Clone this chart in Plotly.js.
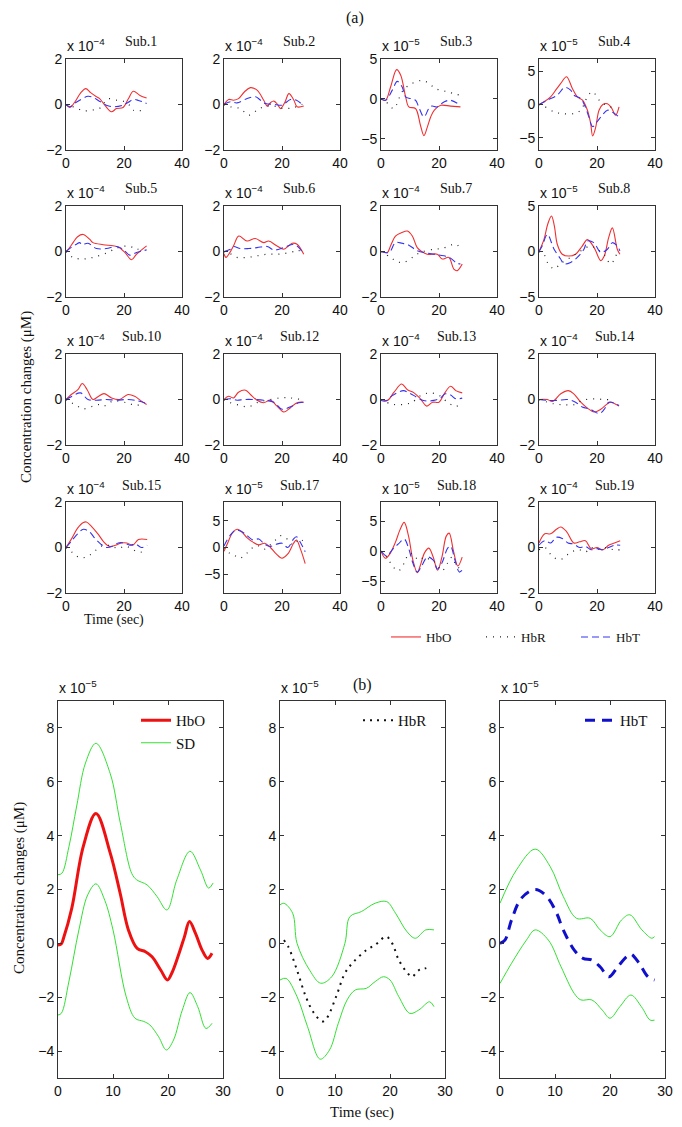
<!DOCTYPE html>
<html><head><meta charset="utf-8">
<script src="https://cdn.plot.ly/plotly-3.0.1.min.js"></script>
<style>body{margin:0;padding:0;background:#fff}#chart{width:682px;height:1127px}</style>
</head><body><div id="chart"></div>
<script>
// ---------- DATA (values in units of the panel's ×10^n multiplier) ----------
const subNames = ['Sub.1','Sub.2','Sub.3','Sub.4','Sub.5','Sub.6','Sub.7','Sub.8','Sub.10','Sub.12','Sub.13','Sub.14','Sub.15','Sub.17','Sub.18','Sub.19'];
const subExponents = ['-4','-4','-5','-5','-4','-4','-4','-5','-4','-4','-4','-4','-4','-5','-5','-4'];
const subYTicks = [[-2,0,2],[-2,0,2],[-5,0,5],[-5,0,5],[-2,0,2],[-2,0,2],[-2,0,2],[-5,0,5],[-2,0,2],[-2,0,2],[-2,0,2],[-2,0,2],[-2,0,2],[-5,0,5],[-5,0,5],[-2,0,2]];
const xTicksTop = [0,20,40];
const xTicksBottom = [0,10,20,30];
const yTicksBottom = [-4,-2,0,2,4,6,8];

const sub1_hbo = [[0,0],[1.3,-0.13],[3,0.1],[5,0.5],[6.8,0.7],[8.5,0.52],[10.5,0.34],[11.6,0.26],[13.5,-0.05],[15.7,-0.32],[17.4,-0.18],[19.7,-0.13],[21.5,0.25],[23.2,0.58],[25.5,0.4],[27.8,0.29]];
const sub1_hbr = [[0,0],[2,-0.08],[4.1,-0.18],[5.9,-0.28],[8.8,-0.25],[11.6,-0.17],[13,0.05],[14.5,0.25],[17.4,0.19],[20.3,0.12],[22,-0.05],[23.2,-0.25],[27,-0.25]];
const sub1_hbt = [[0,0],[1.3,-0.1],[3,0.05],[4.7,0.19],[7.6,0.36],[9.5,0.3],[11,0.19],[13.9,-0.03],[16.8,-0.1],[19.7,-0.03],[21.5,0.1],[23.2,0.22],[25,0.18],[27.8,0.04]];

const sub2_hbo = [[0,0],[1.6,0.22],[3.3,0.19],[5,0.26],[7,0.55],[9.1,0.74],[11.4,0.63],[13.7,0.19],[14.9,-0.07],[16,0.08],[17.2,0.15],[18.5,0.0],[19.5,-0.18],[21,0.1],[22.4,0.48],[24.1,0.19],[25.2,-0.1],[27.5,-0.07]];
const sub2_hbr = [[0,0],[2.2,-0.1],[5.6,-0.18],[8.5,-0.47],[11.4,-0.25],[13.7,-0.1],[17.2,-0.07],[20.6,-0.18],[24,-0.13],[27,0.01]];
const sub2_hbt = [[0,0],[2.2,0.12],[4.5,0.07],[8,0.26],[10.9,0.34],[12.5,0.2],[14.3,0.04],[17.2,0.01],[20,-0.03],[22.9,0.22],[25,0.19],[27.5,-0.07]];

const sub3_hbo = [[0,0],[1.6,-0.17],[3.3,1.5],[5.4,3.67],[6.8,2.96],[8.5,0.25],[9.6,-1],[11.9,-1.2],[13.6,-3.3],[14.8,-4.6],[16,-3.5],[17.2,-2.2],[18.4,-1.4],[20.6,-0.8],[24,-0.9],[27.4,-1]];
const sub3_hbr = [[0,0],[1.6,-0.3],[3.3,-1],[4.5,-1.2],[7.3,0.9],[9.6,1.7],[13.6,2.3],[15.9,2.1],[18.8,1.3],[22.8,0.9],[27.4,0.45]];
const sub3_hbt = [[0,0],[1.6,-0.17],[3.9,1.1],[5.6,2.2],[7.3,1.5],[8.5,0.25],[10.2,0.04],[11.9,-0.17],[13,-1],[14.8,-2.25],[16.5,-1.2],[17.5,-0.9],[19.4,-1],[21.7,-0.38],[24,-0.17],[27.4,-0.8]];

const sub4_hbo = [[0,0],[1.7,0.4],[4,1.15],[6,2.3],[7.5,3.15],[9.5,4.15],[11.5,2.4],[13.2,1.15],[15,0.65],[16.7,-0.85],[17.8,-2.8],[18.5,-4.7],[19.5,-3.5],[20.7,-0.85],[22,0],[23.6,0.1],[25,-0.5],[26.4,-1.6],[27.6,-0.35]];
const sub4_hbr = [[0,0],[1.7,-0.25],[5.2,-1.1],[8,-1.35],[12,-1.35],[14.4,-0.85],[16.7,1.15],[18.4,1.9],[21.3,0.4],[24.7,-0.35],[27,-0.6]];
const sub4_hbt = [[0,0],[2.9,0.65],[6.3,1.4],[8.9,2.55],[10.9,2.15],[12,1.4],[14.4,0.9],[15.8,-0.2],[17.2,-1.85],[18.5,-3.3],[20,-2.6],[21.8,-1.6],[23.6,-0.85],[25.5,-1.2],[27.6,-1.85]];

const sub5_hbo = [[0,0],[1,0.13],[2.5,0.4],[4,0.65],[5.9,0.75],[8.2,0.53],[9.3,0.39],[12.8,0.3],[16.2,0.25],[18,0.2],[20.3,-0.04],[22.6,-0.36],[24.3,-0.12],[27.8,0.25]];
const sub5_hbr = [[0,0],[2.4,-0.26],[5.9,-0.33],[9.3,-0.26],[13.9,-0.07],[17.5,0.15],[20.9,0.24],[24.3,0.13],[26.6,-0.01]];
const sub5_hbt = [[0,0],[2,0.2],[3.6,0.32],[4.7,0.39],[5.5,0.3],[7.6,0.36],[10.5,0.13],[13.9,0.13],[17.4,0.22],[19.7,0.1],[22,-0.16],[24.3,-0.04],[27.8,0.07]];

const sub6_hbo = [[0,-0.1],[0.7,-0.26],[2,-0.05],[3.3,0.25],[5.1,0.68],[7.9,0.46],[10.8,0.57],[13.7,0.39],[15.4,0.46],[18.3,0.24],[20.6,0.1],[23.5,0.36],[25.2,0.32],[27.5,-0.12]];
const sub6_hbr = [[0,0],[2.2,-0.1],[4.5,-0.26],[8,-0.26],[11.4,-0.19],[14.9,-0.12],[18.3,-0.12],[21.7,-0.07],[25.2,0.03],[27.5,0.05]];
const sub6_hbt = [[0,0],[2.2,0.1],[3.3,0.22],[5.6,0.13],[8.5,0.13],[11.4,0.17],[14.9,0.22],[17.2,0.07],[20.6,0.17],[24,0.32],[25.8,0.17],[27.5,-0.12]];

const sub7_hbo = [[0,0],[2.2,-0.04],[3.3,0.25],[5,0.68],[7,0.82],[9.1,0.9],[10.8,0.68],[12.5,0.17],[14,0],[15.9,-0.12],[19.4,-0.12],[21.1,-0.33],[23.4,-0.26],[25.1,-0.77],[26.3,-0.84],[28,-0.55]];
const sub7_hbr = [[0,0],[3.3,-0.26],[5.6,-0.45],[7.9,-0.48],[10.8,-0.26],[13.6,-0.04],[18.2,0.1],[21,0.13],[25.7,0.32],[27.4,0.13]];
const sub7_hbt = [[0,0],[2.8,-0.04],[5,0.39],[7.3,0.36],[9.6,0.28],[12.5,0.03],[15.9,-0.07],[18.2,-0.12],[21.7,-0.19],[24,-0.3],[26,-0.5],[27.4,-0.55]];

const sub8_hbo = [[0,0],[1.7,1.3],[3,3],[4.3,3.9],[5.3,2.8],[6.3,0.8],[8,-0.3],[10.3,-0.5],[12.6,-0.3],[14.9,0.6],[16.7,1.3],[19,0.43],[21.3,-1.0],[22.5,-0.5],[24,1.5],[25.3,2.6],[27,0.25],[27.9,-0.3]];
const sub8_hbr = [[0,0],[1.7,-0.3],[2.9,-1.2],[5.2,-1.9],[7.4,-1.35],[10.9,-0.65],[14.4,0.07],[17.8,0.6],[20,0.25],[22.4,-0.3],[24.7,-1.35],[27,-0.1]];
const sub8_hbt = [[0,0],[1.1,0.6],[2.9,1.87],[5.2,0.25],[7.4,-0.8],[8.6,-1.35],[10.9,-1.2],[13.2,-0.65],[15.5,0.25],[16.7,1.15],[18.9,0.97],[21.3,-0.1],[23.6,0.25],[25.3,0.97],[27,0.6],[27.9,0.07]];

const sub10_hbo = [[0,0],[1.8,0.22],[4.1,0.43],[5.6,0.7],[7.3,0.43],[9.3,0],[11,0.12],[13.1,0.26],[15.7,0.07],[18.5,0],[21.4,0.22],[23.7,0.14],[26,-0.07],[27.8,-0.22]];
const sub10_hbr = [[0,0],[1.8,-0.14],[3.6,-0.26],[5.9,-0.41],[9.3,-0.29],[11.6,-0.22],[13,-0.29],[16.2,-0.07],[20.8,-0.14],[24.3,-0.26],[26.6,-0.14]];
const sub10_hbt = [[0,0],[1.8,0.12],[5,0.29],[7.6,0],[10.5,-0.03],[13.9,0],[17.4,-0.03],[20.8,0],[23.7,-0.03],[27.8,-0.17]];

const sub12_hbo = [[0,0],[1.6,0.14],[3.3,0.07],[5,0.32],[7.4,0.41],[9.1,0.22],[11.4,-0.03],[13.7,-0.14],[16,-0.03],[18.3,-0.29],[20.6,-0.55],[22.9,-0.36],[25.2,-0.14],[27.5,-0.12]];
const sub12_hbr = [[0,0],[2.2,-0.14],[5.6,-0.26],[8.5,-0.32],[11.4,-0.14],[14.9,-0.03],[19.5,0.07],[22.9,0.07],[26.4,0]];
const sub12_hbt = [[0,0],[2.2,0.03],[4.5,-0.03],[6.8,0],[10.3,0],[13.7,-0.03],[17.2,-0.12],[20,-0.43],[23.5,-0.29],[25.8,-0.14],[27.5,-0.12]];

const sub13_hbo = [[0,0],[2.2,-0.04],[4.5,0.32],[7.1,0.68],[9.1,0.43],[11.4,0.29],[13.6,0.03],[15.8,-0.29],[17.8,-0.12],[20,-0.12],[21.8,0.25],[24,0.58],[25.8,0.39],[28,0.29]];
const sub13_hbr = [[0,0],[3.3,-0.19],[6.2,-0.23],[9.1,-0.19],[10.8,-0.12],[13.6,0.17],[17.2,0.29],[20.6,0.14],[22.9,-0.12],[25.7,-0.29],[27.4,-0.23]];
const sub13_hbt = [[0,-0.04],[1.6,-0.07],[3.9,0.17],[7.7,0.39],[9.6,0.29],[11.4,0.17],[13.6,0],[15.9,-0.07],[18.2,-0.04],[20.4,0.06],[22.2,0.25],[24,0.2],[25.8,0.03],[28,0.06]];

const sub14_hbo = [[0,0],[2.9,0],[4.6,-0.09],[7.5,0.25],[10.1,0.39],[12,0.25],[14.4,-0.12],[16.7,-0.38],[19,-0.55],[21.3,-0.43],[23.6,-0.19],[24.7,-0.12],[27.6,-0.29]];
const sub14_hbr = [[0,0],[5.2,-0.19],[8.6,-0.23],[12,-0.23],[14.9,-0.04],[18.9,0.03],[22.4,0],[25.8,0]];
const sub14_hbt = [[0,0],[3.5,-0.04],[6.3,-0.04],[9.8,0],[12.6,-0.12],[14.9,-0.33],[17.8,-0.43],[20.7,-0.62],[22.4,-0.45],[24.1,-0.12],[27.6,-0.26]];

const sub15_hbo = [[0,0],[2,0.4],[4,0.85],[6,1.1],[7,1.12],[9,0.9],[11,0.6],[13,0.25],[15,0.05],[17,0.1],[19,0.2],[21,0.2],[23,0.1],[25,0.35],[28,0.35]];
const sub15_hbr = [[0,0],[2,-0.2],[4,-0.4],[6,-0.45],[8,-0.35],[10,-0.15],[12,0.05],[14,0.1],[16,0.05],[18,-0.05],[20,0.05],[22,0],[24,-0.15],[26,-0.2],[28,-0.15]];
const sub15_hbt = [[0,0],[2,0.3],[4,0.6],[6,0.8],[8,0.7],[10,0.4],[12,0.15],[14,0],[16,0.05],[18,0.2],[20,0.2],[22,0.1],[24,0.15],[26,0],[28,0.1]];

const sub17_hbo = [[0,-0.7],[1,0.5],[3,2.8],[4.5,3.4],[6,3],[8,1.8],[10,1],[12,0.5],[14,0.8],[16,0],[18,-1.2],[20,-2],[22,-1.2],[24,0.8],[25,1.4],[26.5,-0.5],[28,-3]];
const sub17_hbr = [[0,0],[2,-1.1],[4,-1.6],[5.5,-2],[8,-1],[10,0],[12,0.3],[14,-0.3],[16,0.5],[18,1.5],[19.5,2.2],[22,1.5],[24,0.5],[26,1.6],[28,0.8]];
const sub17_hbt = [[0,0.3],[2,2.2],[4,3.2],[6,3],[8,2.2],[10,1.4],[12,1.6],[14,0.6],[16,0.2],[18,0.6],[20,0.8],[22,0],[24,1.6],[25,2],[26.5,0.8],[28,-0.8]];

const sub18_hbo = [[0,0],[1.5,-1.2],[3,-0.5],[5,1.5],[6.5,3.5],[8,4.8],[9.5,2.5],[11,-1.5],[12.5,-3.6],[13.5,-2.5],[15,-0.3],[16.5,0.5],[18,-1],[19.5,-3.2],[21,-1],[22.5,2.5],[23.5,3],[25,0],[26.5,-2.5],[28,-1]];
const sub18_hbr = [[0,0],[2,-1],[4,-2.5],[6,-3.3],[8,-2],[9.5,-0.5],[11,-0.5],[13,-1.5],[15,-1],[17,-1.5],[19,-2],[21,-3.3],[23,-2],[24.5,-1],[26,-2.5],[28,-3]];
const sub18_hbt = [[0,0],[2,-0.8],[4,0.3],[6,1.2],[8,2],[9.5,0.5],[11,-2],[12.5,-3.5],[14,-2.5],[16,-1],[18,-1.5],[19.5,-3],[21,-2],[23,0.5],[24,0.8],[25.5,-1.5],[27,-3.5],[28,-3.2]];

const sub19_hbo = [[0,0.2],[2,0.6],[4,0.6],[6,0.8],[7.5,0.9],[9.5,0.7],[12,0.2],[14,0.25],[16,0.3],[18,-0.05],[20,0],[22,-0.1],[24,0.1],[26,0.2],[28,0.3]];
const sub19_hbr = [[0,-0.1],[2,0],[4,-0.3],[6,-0.5],[8,-0.5],[10,-0.3],[12,-0.15],[14,-0.1],[16,-0.2],[18,0],[20,-0.1],[22,0],[24,-0.05],[26,-0.1],[28,-0.1]];
const sub19_hbt = [[0,0.1],[2,0.3],[4,0.2],[6,0.45],[8,0.4],[10,0.2],[12,0.15],[14,0],[16,0.05],[18,-0.1],[20,-0.05],[22,-0.1],[24,0],[26,0.1],[28,0.1]];

// Panel (b) group averages, units of 1e-5
const avg_hbo = [[0,-0.06],[0.6,-0.02],[1,0.19],[2.5,1.3],[4.6,3.6],[6.9,4.82],[9.5,3.35],[11.3,1.86],[12.8,0.5],[14.4,-0.19],[15.9,-0.31],[17.1,-0.5],[18.7,-1.0],[19.9,-1.36],[20.7,-1.1],[21.8,-0.5],[23,0.25],[23.9,0.81],[25,0.37],[26.2,-0.25],[27.2,-0.56],[28,-0.37]];
const avg_hbo_sdUp = [[0,2.55],[0.7,2.6],[2,3.6],[3.4,5.1],[5,6.7],[6.9,7.43],[9.5,6.3],[11.3,4.5],[13.4,2.6],[14.3,2.36],[16.2,2.17],[18,1.74],[19.8,1.24],[21.6,2.36],[24,3.42],[25.9,2.73],[27.4,2.05],[28.2,2.24]];
const avg_hbo_sdLo = [[0,-2.66],[0.6,-2.6],[2,-1.4],[3.8,0.5],[5.4,1.8],[6.9,2.21],[8.5,1.6],[10,0.5],[12.4,-1.98],[14,-2.78],[15.6,-2.9],[16.7,-3.03],[18.3,-3.47],[19.7,-3.96],[21,-3.59],[22.6,-2.48],[24,-1.83],[25.4,-2.35],[26.9,-3.16],[28,-2.97]];

const avg_hbr = [[0.7,0.12],[1.5,-0.12],[3.1,-1],[4.7,-1.98],[6.2,-2.6],[7.7,-2.9],[8.5,-2.78],[10.2,-1.98],[11.8,-1.11],[13.4,-0.68],[15.7,-0.25],[17.3,-0.06],[19.3,0.25],[20.4,0],[21.6,-0.62],[23.2,-1.11],[24,-1.24],[25.2,-1],[26.4,-0.93],[27.5,-0.87]];
const avg_hbr_sdUp = [[0,1.43],[0.7,1.49],[2.3,1.12],[3.1,0],[5.4,-1],[7.4,-1.48],[9.4,-1.24],[11.8,0],[12.7,0.99],[14.8,1.18],[17.3,1.49],[19.4,1.55],[21,1.12],[23.1,0.43],[24.6,0.19],[26.5,0.5],[28,0.5]];
const avg_hbr_sdLo = [[0,-1.36],[1.1,-1.3],[3.1,-1.98],[5,-3.09],[7.3,-4.3],[9,-3.96],[10.6,-2.97],[12.2,-2.1],[13.7,-1.73],[15.7,-1.67],[17.3,-1.42],[18.8,-1.24],[20,-1.36],[21.6,-1.98],[23.6,-2.6],[25.2,-2.48],[27.2,-2.17],[28,-2.35]];

const avg_hbt = [[0,0],[0.9,0.12],[2.1,0.87],[3.9,1.68],[6.4,2.0],[8.5,1.74],[10.3,1.12],[11.5,0.5],[13.5,-0.25],[15.1,-0.56],[16.7,-0.62],[18.2,-0.87],[19.8,-1.24],[21.4,-0.87],[23,-0.5],[23.8,-0.4],[25.3,-0.74],[26.9,-1.24],[28.1,-1.36]];
const avg_hbt_sdUp = [[0,1.49],[3,2.73],[6.4,3.5],[9.1,2.86],[11.5,1.74],[13.9,0.93],[16.4,0.93],[18.2,0.5],[20,0.25],[22.1,0.87],[23.6,1.06],[25.8,0.5],[27.6,0.19],[28.1,0.25]];
const avg_hbt_sdLo = [[0,-1.49],[2.1,-0.74],[4.8,0.12],[6.4,0.5],[8.8,0.12],[11.1,-0.87],[13.5,-1.86],[14.7,-2.1],[16.7,-2.1],[18.6,-2.48],[20,-2.78],[21.8,-2.35],[23.8,-1.92],[25.7,-2.35],[27.3,-2.85],[28.1,-2.85]];

const subSeries = [
  [sub1_hbo,sub1_hbr,sub1_hbt],[sub2_hbo,sub2_hbr,sub2_hbt],[sub3_hbo,sub3_hbr,sub3_hbt],[sub4_hbo,sub4_hbr,sub4_hbt],
  [sub5_hbo,sub5_hbr,sub5_hbt],[sub6_hbo,sub6_hbr,sub6_hbt],[sub7_hbo,sub7_hbr,sub7_hbt],[sub8_hbo,sub8_hbr,sub8_hbt],
  [sub10_hbo,sub10_hbr,sub10_hbt],[sub12_hbo,sub12_hbr,sub12_hbt],[sub13_hbo,sub13_hbr,sub13_hbt],[sub14_hbo,sub14_hbr,sub14_hbt],
  [sub15_hbo,sub15_hbr,sub15_hbt],[sub17_hbo,sub17_hbr,sub17_hbt],[sub18_hbo,sub18_hbr,sub18_hbt],[sub19_hbo,sub19_hbr,sub19_hbt]
];

// ---------- LAYOUT GEOMETRY ----------
const W = 682, H = 1127;
const px = p => p / W;
const py = p => 1 - p / H;
const colL = [66, 224, 381, 539], colW = 116;
const rowT = [59, 206, 354, 502], rowH = 91;
const yRanges = [[-2,2],[-2,2],[-6.4,5],[-6.8,6.8],[-2,2],[-2,2],[-2,2],[-5,5],[-2,2],[-2,2],[-2,2],[-2,2],[-2,2],[-8.5,8.5],[-7,8.2],[-2,2]];
const botL = [58, 280, 500], botW = 165, botT = 701, botB = 1078;

const SANS = 'Liberation Sans, Arial, sans-serif';
const SERIF = 'Liberation Serif, Times New Roman, serif';
const AX = '#333';
const RED = '#f03030', BLUE = '#3434f0', BLK = '#222';

const xs = a => a.map(p => p[0]);
const ys = a => a.map(p => p[1]);
const axName = (k, i) => k + (i === 1 ? '' : i);

const traces = [];
const layout = {
  width: W, height: H, margin: {l:0, r:0, t:0, b:0},
  paper_bgcolor: '#fff', plot_bgcolor: '#fff',
  font: {family: SANS, size: 14, color: '#111'},
  annotations: [], showlegend: true
};

function baseAxis(extra) {
  return Object.assign({
    showline: true, linecolor: AX, linewidth: 1, mirror: 'ticks',
    ticks: 'inside', ticklen: 4, tickcolor: AX, tickwidth: 1,
    showgrid: false, zeroline: false, fixedrange: true,
    tickfont: {family: SANS, size: 14, color: '#111'}
  }, extra);
}

const names = ['HbO', 'HbR', 'HbT'];
const styles = [
  {color: RED, width: 1.1, dash: 'solid'},
  {color: BLK, width: 1.2, dash: '1px,6px'},
  {color: BLUE, width: 1.1, dash: '7px,4px'}
];

for (let k = 0; k < 16; k++) {
  const i = k + 1, r = Math.floor(k / 4), c = k % 4;
  layout[axName('xaxis', i)] = baseAxis({
    domain: [px(colL[c]), px(colL[c] + colW)], anchor: axName('y', i),
    range: [0, 40], tickvals: xTicksTop
  });
  layout[axName('yaxis', i)] = baseAxis({
    domain: [py(rowT[r] + rowH), py(rowT[r])], anchor: axName('x', i),
    range: yRanges[k], tickvals: subYTicks[k]
  });
  for (let s = 0; s < 3; s++) {
    const d = subSeries[k][s];
    traces.push({
      type: 'scatter', mode: 'lines', x: xs(d), y: ys(d),
      xaxis: axName('x', i), yaxis: axName('y', i),
      name: names[s], legend: 'legend', showlegend: k === 0,
      line: Object.assign({shape: 'spline', smoothing: 1}, styles[s]),
      hoverinfo: 'skip'
    });
  }
  layout.annotations.push({
    xref: 'paper', yref: 'paper', x: px(colL[c] - 1), y: py(rowT[r] - 3),
    xanchor: 'left', yanchor: 'bottom', showarrow: false,
    text: 'x 10<sup>\u2212' + subExponents[k].replace('-', '') + '</sup>',
    font: {family: SANS, size: 14, color: '#111'}
  });
  layout.annotations.push({
    xref: 'paper', yref: 'paper', x: px(colL[c] + colW / 2 + 17), y: py(rowT[r] - 17),
    xanchor: 'center', yanchor: 'middle', showarrow: false,
    text: subNames[k], font: {family: SERIF, size: 14, color: '#111'}
  });
}

// bottom panels
const botSets = [
  {main: avg_hbo, up: avg_hbo_sdUp, lo: avg_hbo_sdLo, name: 'HbO', line: {color: '#ee1111', width: 3, dash: 'solid'}, leg: 'legend2'},
  {main: avg_hbr, up: avg_hbr_sdUp, lo: avg_hbr_sdLo, name: 'HbR', line: {color: '#111', width: 2, dash: '2px,5px'}, leg: 'legend3'},
  {main: avg_hbt, up: avg_hbt_sdUp, lo: avg_hbt_sdLo, name: 'HbT', line: {color: '#1010cc', width: 3, dash: '10px,7px'}, leg: 'legend4'}
];
const GREEN = '#33e033';
for (let b = 0; b < 3; b++) {
  const i = 17 + b, S = botSets[b];
  layout[axName('xaxis', i)] = baseAxis({
    domain: [px(botL[b]), px(botL[b] + botW)], anchor: axName('y', i),
    range: [0, 30], tickvals: xTicksBottom
  });
  layout[axName('yaxis', i)] = baseAxis({
    domain: [py(botB), py(botT)], anchor: axName('x', i),
    range: [-5, 9], tickvals: yTicksBottom
  });
  traces.push({type: 'scatter', mode: 'lines', x: xs(S.main), y: ys(S.main),
    xaxis: axName('x', i), yaxis: axName('y', i), name: S.name, legend: S.leg,
    line: Object.assign({shape: 'spline', smoothing: 1}, S.line), hoverinfo: 'skip'});
  traces.push({type: 'scatter', mode: 'lines', x: xs(S.up), y: ys(S.up),
    xaxis: axName('x', i), yaxis: axName('y', i), name: 'SD', legend: S.leg, showlegend: b === 0,
    line: {shape: 'spline', smoothing: 1, color: GREEN, width: 1}, hoverinfo: 'skip'});
  traces.push({type: 'scatter', mode: 'lines', x: xs(S.lo), y: ys(S.lo),
    xaxis: axName('x', i), yaxis: axName('y', i), name: 'SD', legend: S.leg, showlegend: false,
    line: {shape: 'spline', smoothing: 1, color: GREEN, width: 1}, hoverinfo: 'skip'});
  layout.annotations.push({
    xref: 'paper', yref: 'paper', x: px(botL[b] - 1), y: py(botT - 3),
    xanchor: 'left', yanchor: 'bottom', showarrow: false,
    text: 'x 10<sup>\u22125</sup>', font: {family: SANS, size: 14, color: '#111'}
  });
}

// legends
const legBase = {bgcolor: 'rgba(0,0,0,0)', borderwidth: 0, font: {family: SERIF, size: 15, color: '#111'}, xanchor: 'left', yanchor: 'top', tracegroupgap: 0};
layout.legend = Object.assign({}, legBase, {orientation: 'h', x: px(386), y: py(622), font: {family: SERIF, size: 13, color: '#111'}, entrywidth: 50, entrywidthmode: 'pixels'});
layout.legend2 = Object.assign({}, legBase, {x: px(136), y: py(704)});
layout.legend3 = Object.assign({}, legBase, {x: px(358), y: py(704)});
layout.legend4 = Object.assign({}, legBase, {x: px(580), y: py(704)});

// texts
const txt = (t, x, y, size, angle, fam) => layout.annotations.push({
  xref: 'paper', yref: 'paper', x: px(x), y: py(y), xanchor: 'center', yanchor: 'middle',
  showarrow: false, text: t, textangle: angle || 0, font: {family: fam || SERIF, size: size, color: '#111'}
});
txt('(a)', 355, 18, 16);
txt('(b)', 362, 685, 16);
txt('Concentration changes (\u03bcM)', 26, 397, 15, -90);
txt('Concentration changes (\u03bcM)', 19, 888, 15, -90);
txt('Time (sec)', 114, 620, 14);
txt('Time (sec)', 362, 1112, 15);

Plotly.newPlot('chart', traces, layout, {staticPlot: true, displayModeBar: false});
</script>
</body></html>
